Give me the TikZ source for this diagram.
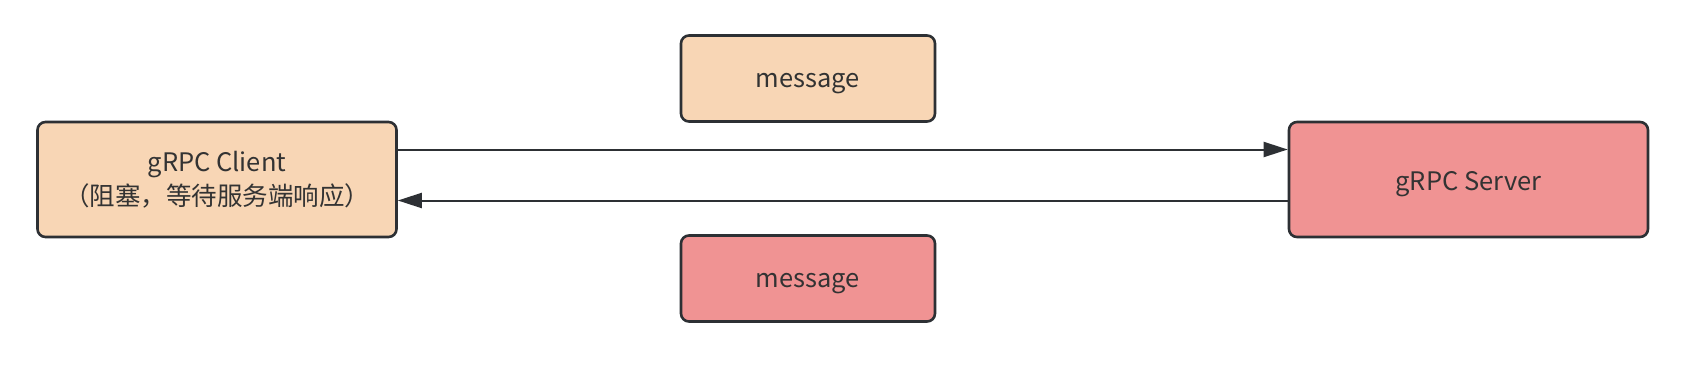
\documentclass[tikz,border=0pt]{standalone}
\usepackage{fontspec}
\setmainfont{Noto Sans CJK SC}
\usetikzlibrary{arrows.meta}
\definecolor{peach}{RGB}{248,214,181}
\definecolor{rose}{RGB}{240,147,147}
\definecolor{edge}{RGB}{45,48,52}
\definecolor{txt}{RGB}{51,51,51}
\newcommand{\lowertxt}[1]{\raisebox{-5pt}[\height][\depth]{#1}}
\begin{document}
\begin{tikzpicture}[x=1pt,y=-1pt,
  box/.style={draw=edge,line width=2.6pt,rounded corners=8pt,inner sep=0pt,
    text=txt,font=\fontsize{25.5}{34}\selectfont,align=center},
  conn/.style={draw=edge,line width=2pt,-{Triangle[length=24pt,width=15pt]}}]
\useasboundingbox (0,0) rectangle (1682,370);
\fill[white] (0,0) rectangle (1682,370);
\node[box,fill=peach,minimum width=359pt,minimum height=115pt] (client) at (217,179.5) {gRPC Client\\（阻塞，等待服务端响应）};
\node[box,fill=rose,minimum width=359pt,minimum height=115pt] (server) at (1468.5,179.5) {\lowertxt{gRPC Server}};
\node[box,fill=peach,minimum width=254pt,minimum height=86pt] (msg1) at (808,78.5) {\lowertxt{message}};
\node[box,fill=rose,minimum width=254pt,minimum height=86pt] (msg2) at (808,278.5) {\lowertxt{message}};
\draw[conn] ([yshift=30pt]client.east) -- ([yshift=30pt]server.west);
\draw[conn] ([yshift=-21pt]server.west) -- ([yshift=-21pt]client.east);
\end{tikzpicture}
\end{document}
